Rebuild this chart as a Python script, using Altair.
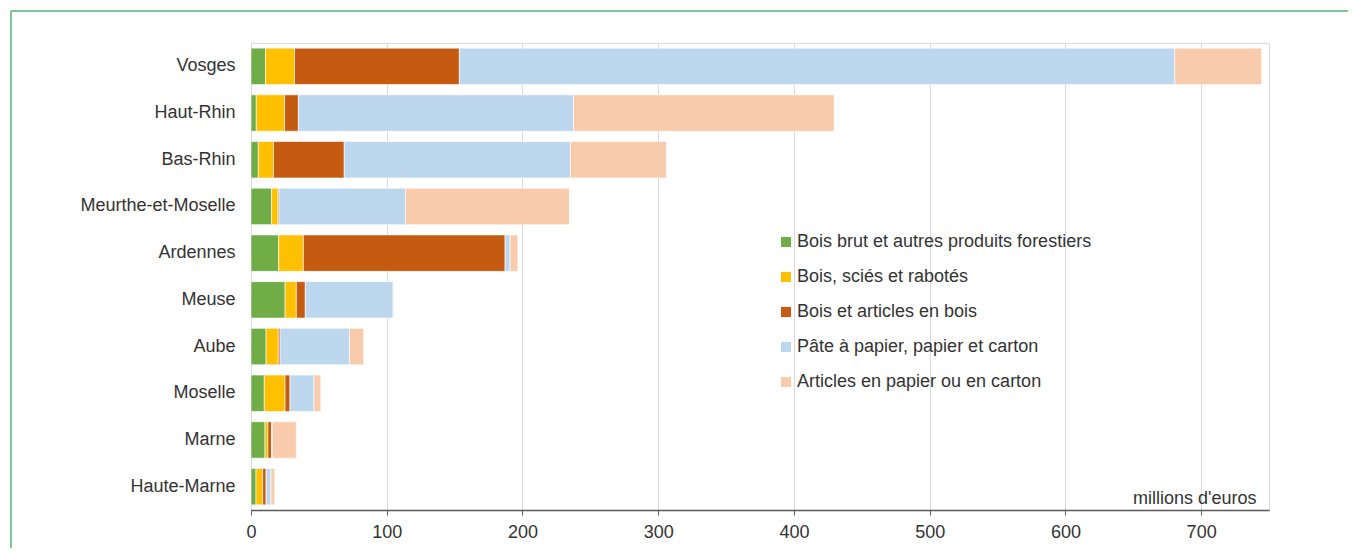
import altair as alt
import pandas as pd

departements = ["Vosges", "Haut-Rhin", "Bas-Rhin", "Meurthe-et-Moselle", "Ardennes",
                "Meuse", "Aube", "Moselle", "Marne", "Haute-Marne"]

series = ["Bois brut et autres produits forestiers",
          "Bois, sciés et rabotés",
          "Bois et articles en bois",
          "Pâte à papier, papier et carton",
          "Articles en papier ou en carton"]

bois_brut = [10.7, 3.9, 5.4, 15.2, 20.4, 25.1, 11.1, 9.8, 10.3, 3.7]
bois_scies = [21.4, 20.9, 11.2, 4.7, 18.2, 8.3, 9.0, 15.3, 2.2, 4.9]
bois_articles = [121.4, 10.1, 52.1, 0.7, 148.6, 6.6, 1.3, 3.6, 2.7, 2.5]
pate_papier = [527.1, 202.8, 166.6, 93.2, 3.7, 64.7, 51.1, 17.7, 0.5, 3.6]
articles_papier = [64.0, 191.9, 70.7, 120.8, 5.7, 0.3, 10.5, 5.0, 17.7, 2.7]

colors = ["#70AD47", "#FFC000", "#C55A11", "#BDD7EE", "#F8CBAD"]
x_ticks = [0, 100, 200, 300, 400, 500, 600, 700]

all_values = [bois_brut, bois_scies, bois_articles, pate_papier, articles_papier]
rows = []
for si, (name, vals) in enumerate(zip(series, all_values)):
    for d, v in zip(departements, vals):
        rows.append({"dep": d, "serie": name, "val": v, "ordre": si})
df = pd.DataFrame(rows)

W, H = 1018, 467
FONT = "Liberation Sans"
TXT = "#333333"

bars = alt.Chart(df).mark_bar(stroke="white", strokeWidth=0.6).encode(
    y=alt.Y("dep:N", sort=departements,
            scale=alt.Scale(paddingInner=0.22, paddingOuter=0.11),
            axis=alt.Axis(title=None, ticks=False, domain=False, labelPadding=16,
                          labelFontSize=18, labelFont=FONT, labelColor=TXT)),
    x=alt.X("val:Q", stack="zero",
            scale=alt.Scale(domain=[0, 750], nice=False),
            axis=alt.Axis(values=x_ticks, title="millions d'euros",
                          titleX=1005, titleY=-7, titleAlign="right",
                          titleBaseline="alphabetic", titleAnchor="end",
                          titleFontSize=18, titleFontWeight="normal",
                          titleFont=FONT, titleColor=TXT,
                          labelFontSize=18, labelFont=FONT, labelColor=TXT,
                          labelPadding=8, tickSize=5, tickColor="#595959",
                          domainColor="#595959", domainWidth=1.5,
                          gridColor="#d9d9d9", gridWidth=1, labelFlush=False)),
    color=alt.Color("serie:N", sort=series,
                    scale=alt.Scale(domain=series, range=colors),
                    legend=alt.Legend(title=None, orient="none", legendX=526, legendY=190,
                                      symbolType="square", symbolSize=100,
                                      symbolStrokeWidth=0, labelFontSize=18,
                                      labelFont=FONT, labelColor=TXT,
                                      labelOffset=2, rowPadding=17, padding=0,
                                      labelLimit=500)),
    order=alt.Order("ordre:Q"),
)

frame_df = pd.DataFrame({"a": [0]})
top_line = alt.Chart(frame_df).mark_rule(color="#4CB775", strokeWidth=1.5).encode(
    x=alt.value(-240), x2=alt.value(1097), y=alt.value(-32), y2=alt.value(-32))
left_line = alt.Chart(frame_df).mark_rule(color="#4CB775", strokeWidth=1.5).encode(
    x=alt.value(-240), x2=alt.value(-240), y=alt.value(-32), y2=alt.value(510))

chart = alt.layer(bars, top_line, left_line).properties(
    width=W, height=H,
    autosize=alt.AutoSizeParams(type="none"),
    padding={"left": 243, "top": 35, "right": 79, "bottom": 38},
).configure_view(stroke=None).configure(background="white")

chart.save("out.html", embed_options={"renderer": "svg", "actions": False})
